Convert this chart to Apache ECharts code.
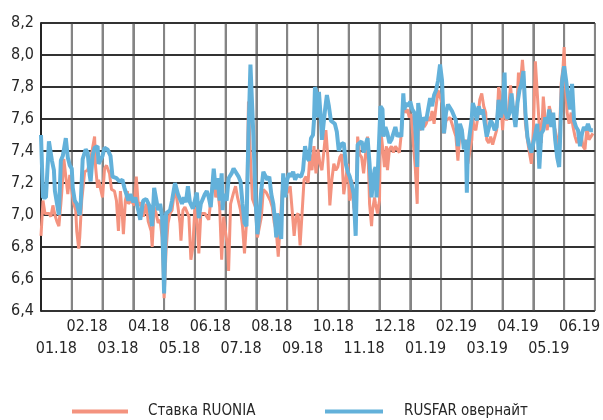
<!DOCTYPE html>
<html><head><meta charset="utf-8">
<script src="https://cdn.jsdelivr.net/npm/echarts@6/dist/echarts.min.js"></script>
<style>html,body{margin:0;padding:0;background:#fff}#c{width:603px;height:420px}</style>
</head><body><div id="c"></div>
<script>
const monthLabels = ['01.18','02.18','03.18','04.18','05.18','06.18','07.18','08.18','09.18','10.18','11.18','12.18','01.19','02.19','03.19','04.19','05.19','06.19'];
const yMin = 6.4, yMax = 8.2, yStep = 0.2;
const seriesNames = ['Ставка RUONIA', 'RUSFAR овернайт'];
const seriesColors = ['#F4937F', '#63B1DA'];

const rusfarDates = ['2018-01-01','2018-01-03','2018-01-06','2018-01-09','2018-01-12','2018-01-14','2018-01-15','2018-01-19','2018-01-20','2018-01-21','2018-01-23','2018-01-26','2018-01-28','2018-01-30',
'2018-02-01','2018-02-02','2018-02-04','2018-02-06','2018-02-09','2018-02-10','2018-02-12','2018-02-15','2018-02-17','2018-02-19','2018-02-20','2018-02-22','2018-02-24','2018-02-27','2018-02-28',
'2018-03-01','2018-03-03','2018-03-06','2018-03-09','2018-03-11','2018-03-15','2018-03-18','2018-03-21','2018-03-23','2018-03-27','2018-03-29',
'2018-04-01','2018-04-03','2018-04-06','2018-04-08','2018-04-11','2018-04-14','2018-04-17','2018-04-20','2018-04-22','2018-04-24','2018-04-26','2018-04-28','2018-04-30',
'2018-05-01','2018-05-03','2018-05-05','2018-05-07','2018-05-09','2018-05-12','2018-05-15','2018-05-17','2018-05-19','2018-05-21','2018-05-23','2018-05-25','2018-05-27','2018-05-30',
'2018-06-01','2018-06-03','2018-06-05','2018-06-07','2018-06-09','2018-06-11','2018-06-13','2018-06-15','2018-06-17','2018-06-20','2018-06-22','2018-06-24','2018-06-26','2018-06-28','2018-06-29','2018-06-30',
'2018-07-02','2018-07-04','2018-07-07','2018-07-09','2018-07-11','2018-07-14','2018-07-16','2018-07-18','2018-07-20','2018-07-22','2018-07-24','2018-07-26','2018-07-28','2018-07-29','2018-07-31',
'2018-08-02','2018-08-04','2018-08-06','2018-08-08','2018-08-10','2018-08-12','2018-08-14','2018-08-16','2018-08-18','2018-08-20','2018-08-21','2018-08-22','2018-08-24','2018-08-26','2018-08-27','2018-08-28','2018-08-30',
'2018-09-01','2018-09-03','2018-09-05','2018-09-07','2018-09-09','2018-09-11','2018-09-13','2018-09-15','2018-09-17','2018-09-19','2018-09-21','2018-09-23','2018-09-25','2018-09-27','2018-09-28','2018-09-29','2018-09-30',
'2018-10-01','2018-10-02','2018-10-04','2018-10-05','2018-10-06','2018-10-08','2018-10-10','2018-10-12','2018-10-14','2018-10-16','2018-10-18','2018-10-20','2018-10-22','2018-10-24','2018-10-26','2018-10-27','2018-10-29','2018-10-31',
'2018-11-02','2018-11-04','2018-11-06','2018-11-08','2018-11-10','2018-11-12','2018-11-14','2018-11-16','2018-11-18','2018-11-20','2018-11-22','2018-11-24','2018-11-25','2018-11-27','2018-11-28','2018-11-29','2018-11-30',
'2018-12-02','2018-12-04','2018-12-05','2018-12-07','2018-12-09','2018-12-11','2018-12-13','2018-12-15','2018-12-17','2018-12-19','2018-12-21','2018-12-23','2018-12-25','2018-12-26','2018-12-28','2018-12-30',
'2019-01-01','2019-01-03','2019-01-05','2019-01-07','2019-01-08','2019-01-09','2019-01-11','2019-01-13','2019-01-15','2019-01-17','2019-01-19','2019-01-21','2019-01-23','2019-01-25','2019-01-27','2019-01-29','2019-01-31',
'2019-02-02','2019-02-04','2019-02-06','2019-02-08','2019-02-10','2019-02-12','2019-02-14','2019-02-16','2019-02-18','2019-02-20','2019-02-22','2019-02-24','2019-02-26','2019-02-27','2019-02-28',
'2019-03-01','2019-03-02','2019-03-04','2019-03-06','2019-03-08','2019-03-10','2019-03-12','2019-03-14','2019-03-16','2019-03-18','2019-03-20','2019-03-22','2019-03-24','2019-03-26','2019-03-28','2019-03-30',
'2019-04-01','2019-04-03','2019-04-04','2019-04-06','2019-04-08','2019-04-10','2019-04-12','2019-04-14','2019-04-16','2019-04-18','2019-04-20','2019-04-22','2019-04-24','2019-04-26','2019-04-28','2019-04-30',
'2019-05-01','2019-05-03','2019-05-05','2019-05-07','2019-05-09','2019-05-11','2019-05-13','2019-05-15','2019-05-17','2019-05-19','2019-05-21','2019-05-23','2019-05-25','2019-05-27','2019-05-29','2019-05-30',
'2019-06-01','2019-06-03','2019-06-05','2019-06-07','2019-06-09','2019-06-11','2019-06-13','2019-06-15','2019-06-17','2019-06-19','2019-06-21','2019-06-23','2019-06-25','2019-06-27','2019-06-29','2019-06-30'];
const rusfarValues = [7.50,7.11,7.11,7.46,7.34,7.28,7.15,7.00,7.00,7.34,7.37,7.48,7.36,7.31,
7.29,7.17,7.09,7.07,7.00,7.07,7.35,7.41,7.39,7.25,7.21,7.37,7.42,7.43,7.32,
7.37,7.42,7.41,7.37,7.24,7.23,7.21,7.22,7.17,7.09,7.13,
7.08,7.11,7.03,6.97,7.09,7.10,7.06,6.93,7.17,7.16,7.03,7.07,6.99,
6.51,7.01,7.02,7.03,7.09,7.20,7.13,7.14,7.07,7.11,7.08,7.18,7.08,7.04,
7.05,7.14,6.98,7.07,7.10,7.13,7.15,7.11,7.05,7.29,7.16,7.23,7.09,7.26,7.03,7.13,
7.09,7.23,7.26,7.29,7.27,7.24,7.21,7.07,6.95,6.93,7.51,7.94,7.94,7.49,7.11,
6.88,7.01,7.16,7.27,7.28,7.22,7.24,7.13,7.07,6.95,6.86,7.01,7.01,6.85,7.09,7.26,7.11,
7.22,7.26,7.24,7.27,7.22,7.25,7.26,7.24,7.28,7.43,7.36,7.34,7.48,7.50,7.59,7.80,7.78,
7.61,7.77,7.59,7.47,7.53,7.65,7.75,7.68,7.59,7.59,7.57,7.52,7.40,7.44,7.43,7.45,7.32,7.27,
7.24,7.19,7.13,6.87,7.44,7.43,7.46,7.39,7.44,7.48,7.32,7.11,7.18,7.28,7.30,7.11,7.22,
7.68,7.66,7.49,7.55,7.51,7.45,7.47,7.47,7.55,7.49,7.51,7.49,7.76,7.66,7.70,7.68,
7.71,7.66,7.64,7.45,7.30,7.70,7.61,7.53,7.61,7.59,7.66,7.73,7.68,7.75,7.78,7.84,7.94,
7.84,7.51,7.64,7.69,7.67,7.65,7.64,7.59,7.43,7.57,7.53,7.41,7.47,7.14,7.41,
7.61,7.70,7.66,7.59,7.68,7.63,7.66,7.66,7.49,7.48,7.59,7.57,7.53,7.55,7.72,7.61,
7.66,7.89,7.64,7.60,7.64,7.76,7.64,7.55,7.70,7.78,7.82,7.90,7.64,7.49,7.43,7.39,
7.45,7.51,7.57,7.29,7.51,7.53,7.61,7.57,7.66,7.55,7.64,7.47,7.36,7.30,7.68,7.84,
7.93,7.84,7.74,7.66,7.82,7.59,7.55,7.53,7.43,7.51,7.55,7.53,7.57,7.53,7.54,7.53];

const ruoniaDates = ['2018-01-01','2018-01-03','2018-01-05','2018-01-07','2018-01-09','2018-01-11','2018-01-13','2018-01-15','2018-01-17','2018-01-19','2018-01-21','2018-01-22','2018-01-24','2018-01-26','2018-01-28','2018-01-30',
'2018-02-01','2018-02-03','2018-02-05','2018-02-06','2018-02-08','2018-02-09','2018-02-11','2018-02-14','2018-02-17','2018-02-20','2018-02-24','2018-02-25','2018-02-27','2018-02-28',
'2018-03-01','2018-03-03','2018-03-05','2018-03-08','2018-03-10','2018-03-13','2018-03-15','2018-03-17','2018-03-19','2018-03-21','2018-03-22','2018-03-24','2018-03-26','2018-03-27','2018-03-30',
'2018-04-02','2018-04-04','2018-04-06','2018-04-08','2018-04-11','2018-04-14','2018-04-16','2018-04-19','2018-04-20','2018-04-22','2018-04-24','2018-04-26','2018-04-28','2018-04-30',
'2018-05-01','2018-05-03','2018-05-05','2018-05-07','2018-05-09','2018-05-12','2018-05-15','2018-05-17','2018-05-18','2018-05-20','2018-05-22','2018-05-24','2018-05-26','2018-05-28','2018-05-30',
'2018-06-01','2018-06-03','2018-06-05','2018-06-07','2018-06-09','2018-06-11','2018-06-13','2018-06-15','2018-06-17','2018-06-20','2018-06-22','2018-06-24','2018-06-26','2018-06-28','2018-06-30',
'2018-07-01','2018-07-03','2018-07-04','2018-07-06','2018-07-09','2018-07-11','2018-07-13','2018-07-16','2018-07-18','2018-07-20','2018-07-22','2018-07-24','2018-07-26','2018-07-28','2018-07-31',
'2018-08-02','2018-08-04','2018-08-06','2018-08-08','2018-08-11','2018-08-13','2018-08-15','2018-08-17','2018-08-19','2018-08-21','2018-08-23','2018-08-25','2018-08-27','2018-08-29','2018-08-31',
'2018-09-02','2018-09-04','2018-09-06','2018-09-08','2018-09-10','2018-09-12','2018-09-14','2018-09-16','2018-09-18','2018-09-20','2018-09-22','2018-09-24','2018-09-26','2018-09-28','2018-09-30',
'2018-10-01','2018-10-03','2018-10-05','2018-10-07','2018-10-09','2018-10-11','2018-10-13','2018-10-15','2018-10-17','2018-10-19','2018-10-21','2018-10-23','2018-10-25','2018-10-27','2018-10-29','2018-10-31',
'2018-11-02','2018-11-04','2018-11-06','2018-11-08','2018-11-10','2018-11-12','2018-11-14','2018-11-16','2018-11-18','2018-11-20','2018-11-22','2018-11-24','2018-11-25','2018-11-27','2018-11-28','2018-11-30',
'2018-12-01','2018-12-02','2018-12-04','2018-12-06','2018-12-08','2018-12-09','2018-12-11','2018-12-13','2018-12-15','2018-12-17','2018-12-19','2018-12-21','2018-12-23','2018-12-25','2018-12-27','2018-12-29','2018-12-31',
'2019-01-02','2019-01-04','2019-01-06','2019-01-08','2019-01-09','2019-01-11','2019-01-13','2019-01-15','2019-01-17','2019-01-19','2019-01-21','2019-01-23','2019-01-25','2019-01-27','2019-01-29','2019-01-31',
'2019-02-02','2019-02-04','2019-02-06','2019-02-08','2019-02-10','2019-02-12','2019-02-14','2019-02-16','2019-02-18','2019-02-20','2019-02-22','2019-02-24','2019-02-26','2019-02-28',
'2019-03-01','2019-03-02','2019-03-03','2019-03-05','2019-03-07','2019-03-09','2019-03-11','2019-03-13','2019-03-15','2019-03-16','2019-03-18','2019-03-20','2019-03-22','2019-03-24','2019-03-26','2019-03-28','2019-03-30',
'2019-04-01','2019-04-03','2019-04-05','2019-04-07','2019-04-09','2019-04-11','2019-04-13','2019-04-15','2019-04-17','2019-04-19','2019-04-21','2019-04-22','2019-04-24','2019-04-26','2019-04-28','2019-04-30',
'2019-05-01','2019-05-03','2019-05-05','2019-05-07','2019-05-09','2019-05-11','2019-05-13','2019-05-15','2019-05-17','2019-05-19','2019-05-21','2019-05-23','2019-05-25','2019-05-27','2019-05-29','2019-05-31',
'2019-06-01','2019-06-02','2019-06-04','2019-06-06','2019-06-08','2019-06-10','2019-06-12','2019-06-14','2019-06-16','2019-06-18','2019-06-20','2019-06-22','2019-06-24','2019-06-26','2019-06-28','2019-06-30'];
const ruoniaValues = [6.87,7.09,7.01,7.00,7.01,6.99,7.06,7.00,6.96,6.93,7.07,7.15,7.35,7.24,7.13,7.25,
7.15,7.07,7.03,6.90,6.79,6.86,7.09,7.27,7.28,7.35,7.49,7.30,7.17,7.22,
7.11,7.29,7.31,7.26,7.16,7.15,7.09,6.90,7.15,6.99,6.88,7.09,7.15,7.07,7.09,
7.06,7.24,7.06,7.08,6.99,7.07,6.96,6.90,6.80,7.05,7.01,6.95,6.97,6.86,
6.48,6.78,6.95,7.01,7.03,7.18,7.05,6.95,6.84,7.03,7.05,7.06,6.99,6.72,6.80,
7.05,6.99,6.76,7.01,7.00,7.01,6.99,6.97,6.96,7.27,7.11,7.16,7.05,6.72,6.99,
6.89,6.80,6.65,7.07,7.14,7.18,7.11,7.03,6.93,6.76,6.95,7.71,7.35,7.10,7.05,
6.86,6.85,6.99,7.16,7.14,7.15,7.09,7.05,6.95,6.90,6.74,6.95,7.15,7.22,7.13,
7.15,7.18,7.03,6.87,6.99,7.01,6.81,7.01,7.22,7.24,7.20,7.38,7.28,7.43,7.26,
7.41,7.32,7.28,7.40,7.53,7.36,7.06,7.22,7.32,7.28,7.30,7.36,7.38,7.13,7.22,7.32,
7.09,7.22,7.05,6.99,7.49,7.38,7.36,7.26,7.38,7.49,7.07,6.93,7.03,7.11,7.07,7.01,
7.09,7.55,7.43,7.30,7.43,7.28,7.41,7.43,7.39,7.43,7.41,7.39,7.51,7.68,7.64,7.66,7.61,
7.63,7.45,7.30,7.07,7.55,7.53,7.59,7.55,7.57,7.61,7.59,7.65,7.57,7.68,7.78,7.78,
7.70,7.51,7.59,7.59,7.61,7.57,7.53,7.49,7.34,7.51,7.49,7.43,7.47,7.32,
7.47,7.61,7.55,7.53,7.61,7.72,7.76,7.68,7.64,7.47,7.45,7.49,7.44,7.43,7.53,7.80,7.74,
7.53,7.74,7.59,7.66,7.81,7.66,7.68,7.61,7.89,7.82,7.97,7.89,7.57,7.47,7.39,7.32,
7.53,7.96,7.96,7.55,7.45,7.74,7.59,7.53,7.68,7.68,7.57,7.53,7.53,7.41,7.82,7.93,
8.05,7.84,7.64,7.57,7.64,7.55,7.49,7.45,7.45,7.51,7.43,7.41,7.55,7.47,7.49,7.51];

function monthPos(s) {
  const p = s.split('-').map(Number);
  return (p[0] - 2018) * 12 + (p[1] - 1) + (p[2] - 1) / 31;
}
function pairs(dates, vals) { return dates.map((d, i) => [monthPos(d), vals[i]]); }

// Grid-line positions in data units (month boundaries, y ticks), drawn through the chart's own scales
const nMonths = monthLabels.length;
const yTicks = [];
for (let k = 0; yMin + k * yStep <= yMax + 1e-9; k++) yTicks.push(+(yMin + k * yStep).toFixed(1));
const vGrid = [];
for (let m = 1; m <= nMonths; m++) vGrid.push([m, yMin], [m, yMax], [m, '-']);
const hGrid = [[0, yMin], [0, yMax], [0, '-']];
yTicks.forEach(v => hGrid.push([0, v], [nMonths, v], [0, '-']));

const FONT = "'DejaVu Sans Condensed','DejaVu Sans',sans-serif";
const TXT = '#262626';
const chart = echarts.init(document.getElementById('c'));
chart.setOption({
  animation: false,
  grid: { left: 41, right: 4, top: 23, bottom: 109 },
  xAxis: [
    { type: 'value', min: 0, max: nMonths, interval: 1,
      axisLabel: { show: false }, axisTick: { show: false }, axisLine: { show: false },
      splitLine: { show: true, lineStyle: { color: '#858585', width: 2 } } },
    { type: 'category', data: monthLabels, boundaryGap: true, position: 'bottom',
      axisLine: { show: false }, axisTick: { show: false },
      axisLabel: { interval: 0, margin: 5, fontSize: 16, lineHeight: 22, color: TXT, fontFamily: FONT,
        formatter: (v, i) => (i % 2 === 0 ? '\n' + v : v) } }
  ],
  yAxis: { type: 'value', min: yMin, max: yMax, interval: yStep,
    axisLine: { show: true, lineStyle: { color: '#222', width: 2 } },
    axisTick: { show: false },
    splitLine: { show: true, lineStyle: { color: '#222', width: 1.5 } },
    axisLabel: { margin: 7, fontSize: 16, color: TXT, fontFamily: FONT,
      formatter: v => v.toFixed(1).replace('.', ',') } },
  legend: [
    { left: 67, top: 399, itemWidth: 56, itemHeight: 4, icon: 'rect',
      textStyle: { fontSize: 15, fontFamily: FONT, color: TXT, padding: [0, 0, 0, 15] },
      data: [seriesNames[0]] },
    { left: 320, top: 399, itemWidth: 58, itemHeight: 4, icon: 'rect',
      textStyle: { fontSize: 15, fontFamily: FONT, color: TXT, padding: [0, 0, 0, 16] },
      data: [seriesNames[1]] }
  ],
  series: [
    { name: 'vgrid', type: 'line', xAxisIndex: 0, data: vGrid, silent: true, clip: false,
      showSymbol: false, connectNulls: false, lineStyle: { color: '#858585', width: 2 } },
    { name: 'hgrid', type: 'line', xAxisIndex: 0, data: hGrid, silent: true, clip: false,
      showSymbol: false, connectNulls: false, lineStyle: { color: '#262626', width: 1.6 } },
    { name: seriesNames[0], type: 'line', xAxisIndex: 0, data: pairs(ruoniaDates, ruoniaValues),
      showSymbol: false, lineStyle: { color: seriesColors[0], width: 3 }, itemStyle: { color: seriesColors[0] } },
    { name: seriesNames[1], type: 'line', xAxisIndex: 0, data: pairs(rusfarDates, rusfarValues),
      showSymbol: false, lineStyle: { color: seriesColors[1], width: 4 }, itemStyle: { color: seriesColors[1] } }
  ]
});
</script></body></html>
